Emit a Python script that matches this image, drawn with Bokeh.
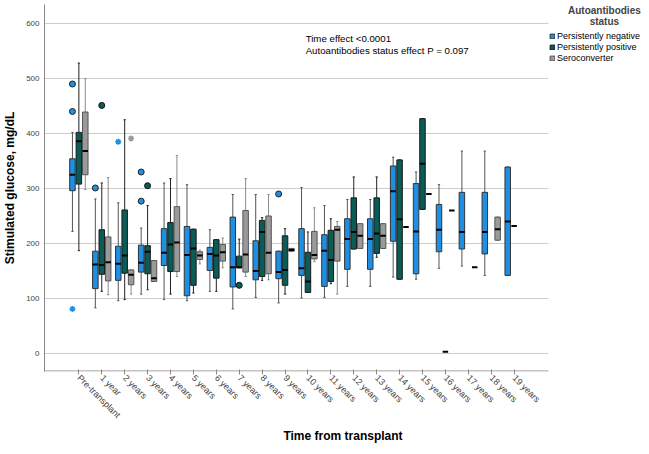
import numpy as np
from bokeh.plotting import figure
from bokeh.models import FixedTicker, Label, Legend, LegendItem, Range1d
from bokeh.embed import file_html
from bokeh.resources import INLINE

nan = float("nan")

categories = ["Pre-transplant", "1 year", "2 years", "3 years", "4 years", "5 years",
              "6 years", "7 years", "8 years", "9 years", "10 years", "11 years",
              "12 years", "13 years", "14 years", "15 years", "16 years", "17 years",
              "18 years", "19 years"]
groups = ["Persistently negative", "Persistently positive", "Seroconverter"]

# Persistently negative
neg_lo  = [222, 83, 96, 108, 98, 96, 113, 81, 102, 92, 101, 102, 122, 122, 139, 135, 155, 159, 142, 142]
neg_q1  = [296, 118, 133, 148, 160, 105, 151, 121, 134, 136, 142, 122, 153, 153, 204, 145, 185, 190, 181, 142]
neg_med = [325, 162, 163, 165, 183, 179, 181, 157, 150, 148, 155, 187, 208, 208, 295, 222, 225, 221, 221, 240]
neg_q3  = [354, 186, 195, 197, 227, 231, 193, 248, 205, 186, 227, 216, 245, 245, 341, 309, 271, 293, 293, 339]
neg_hi  = [402, 281, 274, 228, 310, 307, 225, 289, 289, 186, 302, 269, 280, 280, 357, 330, 307, 368, 368, 339]

# Persistently positive
pos_lo  = [187, 113, 98, 116, 108, 110, 113, 156, 133, 108, 111, 127, 190, 175, 135, 262, 3, nan, nan, 232]
pos_q1  = [308, 144, 146, 145, 149, 124, 137, 156, 140, 124, 111, 131, 190, 182, 135, 262, 3, nan, nan, 232]
pos_med = [386, 161, 178, 185, 198, 191, 178, 157, 221, 152, 131, 170, 221, 218, 244, 345, 3, nan, nan, 232]
pos_q3  = [402, 225, 261, 196, 238, 226, 207, 177, 242, 214, 184, 224, 283, 283, 352, 427, 3, nan, nan, 232]
pos_hi  = [528, 310, 425, 269, 318, 226, 207, 208, 247, 227, 221, 245, 321, 321, 352, 427, 3, nan, nan, 232]

# Seroconverter
ser_lo  = [298, 107, 108, 131, 140, 163, 156, 140, 134, 186, 167, 108, 191, 191, 230, 290, 260, 157, 206, nan]
ser_q1  = [325, 132, 125, 131, 149, 171, 168, 148, 145, 186, 172, 168, 191, 191, 230, 290, 260, 157, 206, nan]
ser_med = [368, 166, 143, 137, 202, 178, 184, 180, 183, 188, 179, 225, 214, 214, 230, 290, 260, 157, 226, nan]
ser_q3  = [439, 212, 152, 169, 267, 185, 198, 260, 250, 191, 222, 231, 236, 236, 230, 290, 260, 157, 248, nan]
ser_hi  = [500, 320, 152, 169, 360, 188, 210, 318, 289, 191, 265, 240, 236, 236, 230, 290, 260, 157, 248, nan]

# Outliers (category index, value)
neg_circle_cat = [0, 0, 1, 3, 3, 9]
neg_circle_val = [490, 440, 301, 330, 277, 290]
neg_star_cat = [0, 2]
neg_star_val = [81, 385]
pos_circle_cat = [1, 3, 7]
pos_circle_val = [451, 305, 124]
ser_star_cat = [2]
ser_star_val = [391]

y_ticks = [0, 100, 200, 300, 400, 500, 600]

colors = ["#1e8fe3", "#0b5b57", "#9a9a9a"]
edge_colors = ["#333333", "#1a1a1a", "#555555"]
whisker_colors = ["#555555", "#222222", "#8a8a8a"]
offsets = [-0.28, 0.0, 0.28]
box_w = 0.24
cap_w = 0.1

FONT = "Liberation Sans"

# category axis spans -1.5 .. 20.5; the frame continues to the right to hold the legend
X_LO, X_HI_AXIS, X_HI = -1.5, 20.5, 24.56
Y_LO, Y_HI = -32.7, 634.5

p = figure(width=641, height=446, output_backend="svg", toolbar_location=None,
           x_range=Range1d(X_LO, X_HI), y_range=Range1d(Y_LO, Y_HI),
           min_border_left=44, min_border_right=0, min_border_top=4, min_border_bottom=75)
p.outline_line_color = None
p.xgrid.visible = False
p.ygrid.visible = False

# horizontal grid lines over the category area only
p.segment(x0=[X_LO] * len(y_ticks), x1=[X_HI_AXIS] * len(y_ticks), y0=y_ticks, y1=y_ticks,
          line_color="#cccccc", line_width=1)
# x axis line over the category area only
p.segment(x0=[X_LO], x1=[X_HI_AXIS], y0=[Y_LO + 0.9], y1=[Y_LO + 0.9],
          line_color="#888888", line_width=1)

data = [
    (neg_lo, neg_q1, neg_med, neg_q3, neg_hi),
    (pos_lo, pos_q1, pos_med, pos_q3, pos_hi),
    (ser_lo, ser_q1, ser_med, ser_q3, ser_hi),
]

box_renderers = []
for gi, (lo, q1, med, q3, hi) in enumerate(data):
    lo, q1, med, q3, hi = [np.array(a, dtype=float) for a in (lo, q1, med, q3, hi)]
    x = np.arange(len(categories)) + offsets[gi]
    valid = ~np.isnan(med)
    up = valid & (hi > q3)
    p.segment(x0=x[up], y0=q3[up], x1=x[up], y1=hi[up], line_color=whisker_colors[gi], line_width=1)
    dn = valid & (lo < q1)
    p.segment(x0=x[dn], y0=lo[dn], x1=x[dn], y1=q1[dn], line_color=whisker_colors[gi], line_width=1)
    cap = valid & (hi > lo)
    p.segment(x0=x[cap] - cap_w / 2, y0=hi[cap], x1=x[cap] + cap_w / 2, y1=hi[cap],
              line_color=whisker_colors[gi], line_width=1)
    p.segment(x0=x[cap] - cap_w / 2, y0=lo[cap], x1=x[cap] + cap_w / 2, y1=lo[cap],
              line_color=whisker_colors[gi], line_width=1)
    bx = valid & (q3 > q1)
    r = p.quad(left=x[bx] - box_w / 2, right=x[bx] + box_w / 2, bottom=q1[bx], top=q3[bx],
               fill_color=colors[gi], line_color=edge_colors[gi], line_width=1)
    box_renderers.append(r)
    p.segment(x0=x[valid] - box_w / 2, y0=med[valid], x1=x[valid] + box_w / 2, y1=med[valid],
              line_color="black", line_width=2)

p.scatter(x=np.array(neg_circle_cat) + offsets[0], y=neg_circle_val, marker="circle", size=6,
          fill_color=colors[0], line_color="#222222", line_width=1)
p.scatter(x=np.array(pos_circle_cat) + offsets[1], y=pos_circle_val, marker="circle", size=6,
          fill_color=colors[1], line_color="#111111", line_width=1)
p.scatter(x=np.array(neg_star_cat) + offsets[0], y=neg_star_val, marker="asterisk", size=6,
          line_color=colors[0], line_width=1.5)
p.scatter(x=np.array(ser_star_cat) + offsets[2], y=ser_star_val, marker="asterisk", size=6,
          line_color=colors[2], line_width=1.5)

p.xaxis.ticker = FixedTicker(ticks=list(range(len(categories))))
p.xaxis.major_label_overrides = {i: c for i, c in enumerate(categories)}
p.xaxis.major_label_orientation = -np.pi / 4
p.xaxis.major_label_text_font = FONT
p.xaxis.major_label_text_font_size = "9px"
p.xaxis.major_label_text_color = "#444444"
p.xaxis.major_tick_in = 2
p.xaxis.major_tick_out = 3
p.xaxis.major_tick_line_color = "#888888"
p.xaxis.minor_tick_line_color = None
p.xaxis.axis_line_color = None
p.xaxis.major_label_standoff = 2
p.xaxis.axis_label = "Time from transplant"
p.xaxis.axis_label_text_font = FONT
p.xaxis.axis_label_text_font_size = "12px"
p.xaxis.axis_label_text_font_style = "bold"
p.xaxis.axis_label_text_color = "black"
p.xaxis.axis_label_standoff = 2

p.yaxis.ticker = FixedTicker(ticks=y_ticks)
p.yaxis.major_label_text_font = FONT
p.yaxis.major_label_text_font_size = "8px"
p.yaxis.major_label_text_color = "#444444"
p.yaxis.major_tick_in = 0
p.yaxis.major_tick_out = 0
p.yaxis.minor_tick_line_color = None
p.yaxis.axis_line_color = "#888888"
p.yaxis.major_label_standoff = 5
p.yaxis.axis_label = "Stimulated glucose, mg/dL"
p.yaxis.axis_label_text_font = FONT
p.yaxis.axis_label_text_font_size = "12px"
p.yaxis.axis_label_text_font_style = "bold"
p.yaxis.axis_label_text_color = "black"
p.yaxis.axis_label_standoff = 6

p.add_layout(Label(x=9.9, y=572.1, text="Time effect <0.0001", text_font=FONT,
                   text_font_size="9.7px", text_baseline="middle", text_color="black"))
p.add_layout(Label(x=9.9, y=550.9, text="Autoantibodies status effect P = 0.097", text_font=FONT,
                   text_font_size="9.7px", text_baseline="middle", text_color="black"))

# legend title
p.add_layout(Label(x=22.94, y=623.0, text="Autoantibodies", text_font=FONT, text_font_style="bold",
                   text_font_size="10px", text_align="center", text_baseline="middle"))
p.add_layout(Label(x=22.94, y=602.7, text="status", text_font=FONT, text_font_style="bold",
                   text_font_size="10px", text_align="center", text_baseline="middle"))

legend = Legend(items=[LegendItem(label=g, renderers=[r]) for g, r in zip(groups, box_renderers)],
                location=(505, 308), glyph_width=6, glyph_height=6, label_standoff=2,
                label_height=11, label_text_font=FONT, label_text_font_size="9px",
                label_text_color="black", spacing=0, padding=0, margin=0,
                border_line_color=None, background_fill_alpha=0)
p.add_layout(legend, "center")

open("out.html", "w").write(file_html(p, INLINE))
